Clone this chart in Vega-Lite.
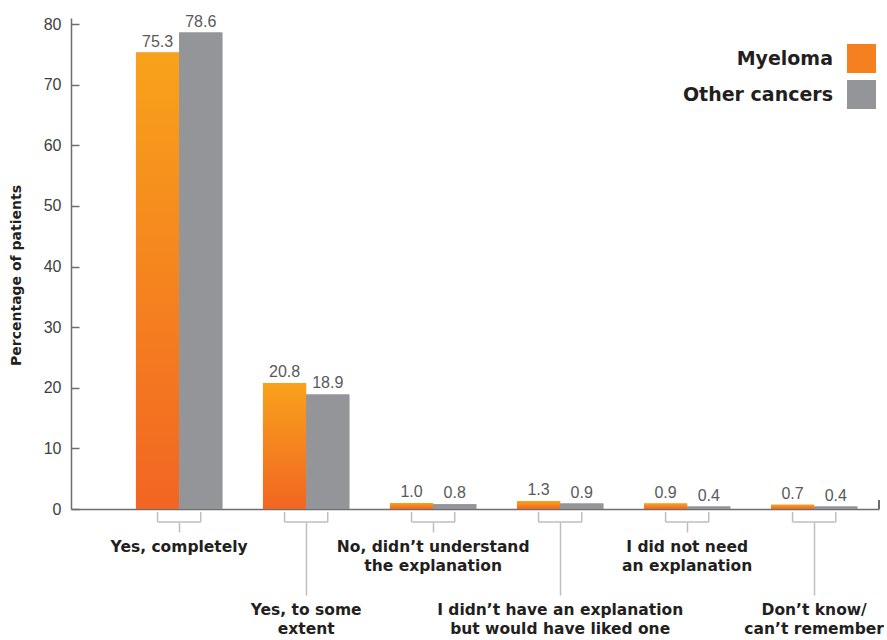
{
  "$schema": "https://vega.github.io/schema/vega-lite/v6.json",
  "background": "white",
  "padding": {"left": 9, "top": 13, "right": 0, "bottom": 0},
  "autosize": {"type": "pad"},
  "config": {
    "view": {"stroke": null},
    "font": "Liberation Sans"
  },
  "bounds": "flush",
  "spacing": 3,
  "data": {
    "values": [
      {"category": "Yes, completely", "series": "Myeloma", "value": 75.3},
      {"category": "Yes, completely", "series": "Other cancers", "value": 78.6},
      {"category": "Yes, to some extent", "series": "Myeloma", "value": 20.8},
      {"category": "Yes, to some extent", "series": "Other cancers", "value": 18.9},
      {"category": "No, didn’t understand the explanation", "series": "Myeloma", "value": 1.0},
      {"category": "No, didn’t understand the explanation", "series": "Other cancers", "value": 0.8},
      {"category": "I didn’t have an explanation but would have liked one", "series": "Myeloma", "value": 1.3},
      {"category": "I didn’t have an explanation but would have liked one", "series": "Other cancers", "value": 0.9},
      {"category": "I did not need an explanation", "series": "Myeloma", "value": 0.9},
      {"category": "I did not need an explanation", "series": "Other cancers", "value": 0.4},
      {"category": "Don’t know/can’t remember", "series": "Myeloma", "value": 0.7},
      {"category": "Don’t know/can’t remember", "series": "Other cancers", "value": 0.4}
    ]
  },
  "vconcat": [
    {
      "width": 808,
      "height": 491,
      "resolve": {"scale": {"x": "independent"}, "axis": {"x": "independent"}},
      "layer": [
        {
          "encoding": {
            "x": {
              "field": "category",
              "type": "nominal",
              "scale": {
                "domain": ["Yes, completely", "Yes, to some extent", "No, didn’t understand the explanation", "I didn’t have an explanation but would have liked one", "I did not need an explanation", "Don’t know/can’t remember"],
                "paddingInner": 0.32,
                "paddingOuter": 0.341,
                "align": 0.75
              },
              "axis": {
                "title": null,
                "labels": false,
                "ticks": false,
                "domain": true,
                "domainColor": "#6d6e71",
                "domainWidth": 1.5
              }
            },
            "xOffset": {
              "field": "series",
              "type": "nominal",
              "scale": {"domain": ["Myeloma", "Other cancers"], "paddingInner": 0, "paddingOuter": 0}
            },
            "y": {
              "field": "value",
              "type": "quantitative",
              "scale": {"domain": [0, 81], "nice": false},
              "axis": {
                "title": "Percentage of patients",
                "titleFont": "DejaVu Sans",
                "titleFontWeight": "bold",
                "titleFontSize": 14,
                "titleColor": "#231f20",
                "titlePadding": 20,
                "titleY": 257,
                "values": [0, 10, 20, 30, 40, 50, 60, 70, 80],
                "grid": false,
                "domainColor": "#6d6e71",
                "domainWidth": 1.5,
                "tickColor": "#6d6e71",
                "tickWidth": 1.5,
                "tickSize": -8,
                "labelPadding": 18,
                "labelFont": "Liberation Sans",
                "labelFontSize": 16,
                "labelColor": "#414042"
              }
            }
          },
          "layer": [
            {
              "mark": {"type": "bar"},
              "encoding": {
                "color": {
                  "field": "series",
                  "type": "nominal",
                  "scale": {
                    "domain": ["Myeloma", "Other cancers"],
                    "range": ["#F4801F", "#939598"]
                  },
                  "legend": {
                    "orient": "none",
                    "legendX": 776,
                    "legendY": 26,
                    "title": null,
                    "symbolType": "square",
                    "symbolSize": 841,
                    "symbolStrokeWidth": 0,
                    "symbolOpacity": 1,
                    "labelFont": "DejaVu Sans",
                    "labelFontWeight": "bold",
                    "labelFontSize": 19,
                    "labelColor": "#231f20",
                    "labelAlign": "right",
                    "labelOffset": -43,
                    "labelLimit": 300,
                    "rowPadding": 7,
                    "padding": 0
                  }
                }
              }
            },
            {
              "mark": {"type": "bar"},
              "encoding": {
                "fill": {
                  "condition": {
                    "test": "datum.series == 'Myeloma'",
                    "value": {"gradient": "linear", "x1": 0, "y1": 0, "x2": 0, "y2": 1, "stops": [{"offset": 0, "color": "#F8A21B"}, {"offset": 1, "color": "#F26522"}]}
                  },
                  "value": "#939598"
                }
              }
            },
            {
              "mark": {"type": "text", "baseline": "bottom", "dy": -3, "font": "Liberation Sans", "fontSize": 16, "color": "#58595b"},
              "encoding": {
                "text": {"field": "value", "type": "quantitative", "format": ".1f"}
              }
            }
          ]
        },
        {
          "mark": {"type": "rule", "color": "#6d6e71", "strokeWidth": 1.5},
          "encoding": {
            "x": {"datum": 1, "type": "quantitative", "scale": {"domain": [0, 1]}, "axis": null},
            "y": {"datum": 0, "type": "quantitative"},
            "y2": {"datum": 1.5}
          }
        }
      ]
    },
    {
      "width": 808,
      "height": 10,
      "encoding": {
        "x": {
          "field": "category",
          "type": "nominal",
          "scale": {
            "domain": ["Yes, completely", "Yes, to some extent", "No, didn’t understand the explanation", "I didn’t have an explanation but would have liked one", "I did not need an explanation", "Don’t know/can’t remember"],
            "paddingInner": 0.32,
            "paddingOuter": 0.341,
            "align": 0.75
          },
          "axis": {
            "title": null,
            "domain": false,
            "labelAngle": 0,
            "labelAlign": "center",
            "labelBaseline": "top",
            "labelFont": "DejaVu Sans",
            "labelFontWeight": "bold",
            "labelFontSize": 15.5,
            "labelColor": "#231f20",
            "labelLineHeight": 19,
            "labelLimit": 400,
            "labelOverlap": false,
            "labelPadding": 7,
            "tickColor": "#bcbec0",
            "tickWidth": 1.5,
            "tickSize": {"condition": {"test": "indexof(['Yes, to some extent', 'I didn’t have an explanation but would have liked one', 'Don’t know/can’t remember'], datum.value) >= 0", "value": 73}, "value": 10},
            "labelExpr": "datum.value == 'Yes, to some extent' ? ['Yes, to some', 'extent'] : datum.value == 'No, didn’t understand the explanation' ? ['No, didn’t understand', 'the explanation'] : datum.value == 'I didn’t have an explanation but would have liked one' ? ['I didn’t have an explanation', 'but would have liked one'] : datum.value == 'I did not need an explanation' ? ['I did not need', 'an explanation'] : datum.value == 'Don’t know/can’t remember' ? ['Don’t know/', 'can’t remember'] : datum.label"
          }
        },
        "xOffset": {
          "field": "series",
          "type": "nominal",
          "scale": {"domain": ["Myeloma", "Other cancers"], "paddingInner": 0, "paddingOuter": 0}
        }
      },
      "layer": [
        {
          "mark": {"type": "rule", "color": "#bcbec0", "strokeWidth": 1.5},
          "encoding": {
            "y": {"datum": 0, "type": "quantitative", "scale": {"domain": [0, 1]}, "axis": null},
            "y2": {"datum": 1}
          }
        },
        {
          "mark": {"type": "line", "color": "#bcbec0", "strokeWidth": 1.5},
          "encoding": {
            "y": {"datum": 0, "type": "quantitative", "scale": {"domain": [0, 1]}, "axis": null},
            "detail": {"field": "category"}
          }
        }
      ]
    }
  ]
}
